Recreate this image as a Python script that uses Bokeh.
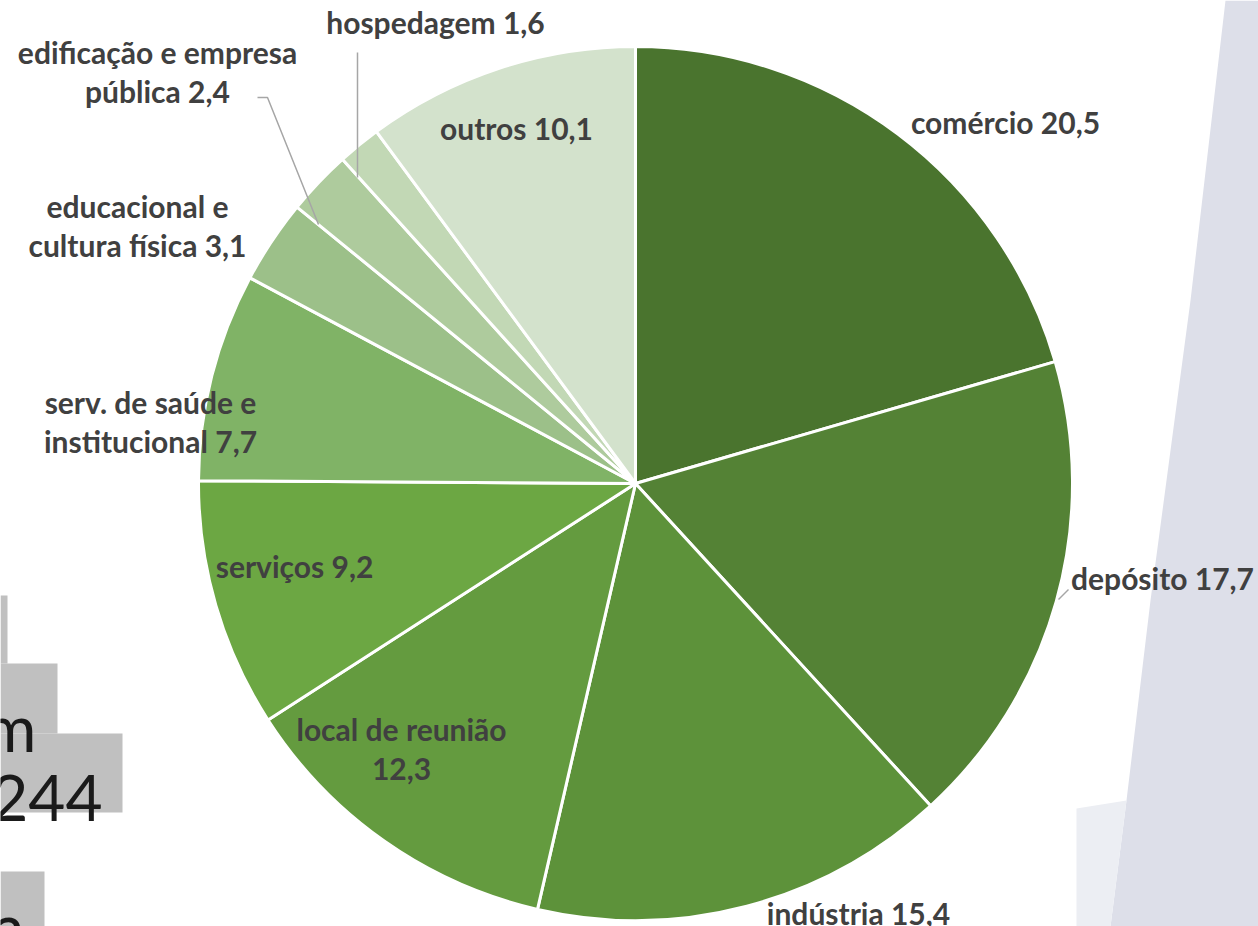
import math
from bokeh.plotting import figure
from bokeh.models import Range1d, ColumnDataSource
from bokeh.core.properties import value
from bokeh.embed import file_html
from bokeh.resources import INLINE

# ---------------- data ----------------
categories = ["comércio", "depósito", "indústria", "local de reunião", "serviços",
              "serv. de saúde e\ninstitucional", "educacional e\ncultura física",
              "edificação e empresa\npública", "hospedagem", "outros"]
values = [20.5, 17.7, 15.4, 12.3, 9.2, 7.7, 3.1, 2.4, 1.6, 10.1]

# background fragments (cropped slide text)
bg_texts = ["m", "244", "a"]

# ---------------- style / layout ----------------
colors = ["#4a742e", "#548235", "#5d923a", "#649b3f", "#6ca743",
          "#80b366", "#9cc089", "#aecb9d", "#c2d8b5", "#d3e2cc"]
label_sep = [" ", " ", " ", "\n", " ", " ", " ", " ", " ", " "]
# label anchor centres in page pixels
label_xy = [(1005, 121), (1162, 577), (858, 912), (401, 748), (294, 565),
            (150, 421), (137, 225), (157, 71), (435, 21), (516, 127)]

W, H, OFF = 1258, 926, 0
CX, CY, R = 635, 483, 437
FONT = "Lato"
LABEL_COLOR = "#404040"


def Y(ypix):
    return -ypix


p = figure(width=W, height=H, x_range=Range1d(OFF, OFF + W),
           y_range=Range1d(-(OFF + H), -OFF), output_backend="svg",
           toolbar_location=None, x_axis_type=None, y_axis_type=None,
           min_border=0, outline_line_color=None, background_fill_color="white")
p.grid.visible = False

# --- background decorations ---
p.patch([1225, 1258, 1258, 1110, 1126, 1150, 1190],
        [Y(v) for v in [0, 0, 926, 926, 800, 600, 300]],
        fill_color="#dddfe9", line_color=None)
p.patch([1076, 1126, 1110, 1076],
        [Y(v) for v in [808, 800, 926, 926]],
        fill_color="#eceef3", line_color=None)
p.quad(left=[0, 0, 0, 0], right=[7, 57, 122, 44],
       top=[Y(595), Y(663), Y(733), Y(871)], bottom=[Y(663), Y(733), Y(812), Y(934)],
       fill_color="#c0c0c0", line_color=None)
p.text(x=[36, 102, 24], y=[Y(727), Y(797), Y(926)], text=bg_texts,
       text_font=value(FONT), text_font_size="64px", text_color="#1a1a1a",
       text_align="right", text_baseline="alphabetic")

# --- pie ---
total = sum(values)
starts, ends = [], []
cum = 0.0
for v in values:
    a0 = math.pi / 2 - 2 * math.pi * cum / total
    cum += v
    a1 = math.pi / 2 - 2 * math.pi * cum / total
    starts.append(a1)
    ends.append(a0)

src = ColumnDataSource(dict(start=starts, end=ends, color=colors,
                            x=[CX] * len(values), y=[Y(CY)] * len(values)))
p.wedge(x="x", y="y", radius=R, start_angle="start", end_angle="end",
        fill_color="color", line_color="white", line_width=3, source=src)

# --- leader lines ---
p.line([1058, 1068], [Y(599), Y(589)], line_color="#a6a6a6", line_width=1.5)
p.line([257, 267, 318], [Y(97), Y(97), Y(224)], line_color="#a6a6a6", line_width=1.5)
p.line([357, 357], [Y(52), Y(177)], line_color="#a6a6a6", line_width=1.5)

# --- labels ---
def fmt(v):
    return f"{v:.1f}".replace(".", ",")

labels = [f"{c}{s}{fmt(v)}" for c, s, v in zip(categories, label_sep, values)]
lsrc = ColumnDataSource(dict(x=[xy[0] for xy in label_xy],
                             y=[Y(xy[1]) for xy in label_xy], text=labels))
p.text(x="x", y="y", text="text", source=lsrc, text_font=value(FONT),
       text_font_style="bold", text_font_size="30px", text_color=LABEL_COLOR,
       text_align="center", text_baseline="middle", text_line_height=1.1)

open("out.html", "w").write(file_html(p, INLINE))
